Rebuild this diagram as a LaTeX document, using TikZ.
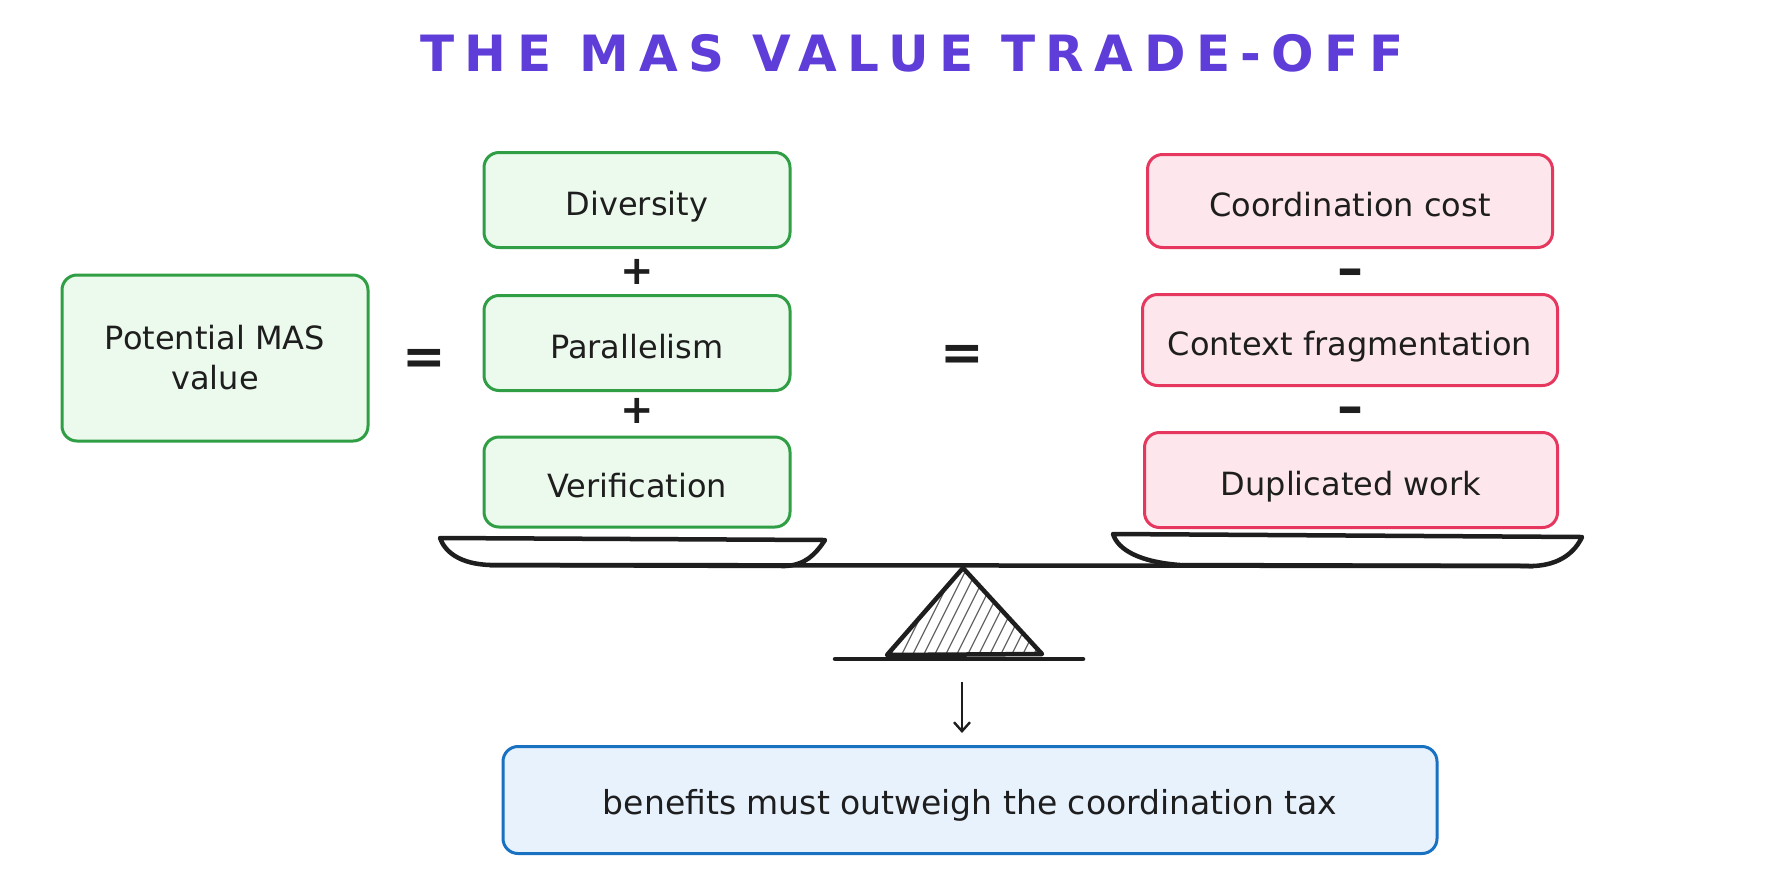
\documentclass[tikz,border=0pt]{standalone}
\usepackage{fontspec}
\setmainfont{DejaVu Sans}
\newfontfamily\titlefont[LetterSpace=21]{DejaVu Sans Bold}
\usetikzlibrary{arrows.meta}
\definecolor{greenD}{RGB}{47,158,68}
\definecolor{greenL}{RGB}{235,250,236}
\definecolor{redD}{RGB}{230,55,95}
\definecolor{redL}{RGB}{253,231,236}
\definecolor{blueD}{RGB}{25,113,194}
\definecolor{blueL}{RGB}{231,242,253}
\definecolor{titleC}{RGB}{95,61,217}
\definecolor{ink}{RGB}{30,30,30}
\tikzset{
  card/.style={draw, line width=3pt, rounded corners=15pt, align=center, inner sep=0pt,
    font=\fontsize{32}{40}\selectfont, text=ink, text height=31pt, text depth=0pt},
  gcard/.style={card, draw=greenD, fill=greenL},
  rcard/.style={card, draw=redD, fill=redL},
  bcard/.style={card, draw=blueD, fill=blueL},
  op/.style={inner sep=0pt, text=ink, font=\bfseries\fontsize{40}{40}\selectfont},
  bigop/.style={op, font=\bfseries\fontsize{52}{52}\selectfont},
  scaleline/.style={draw=ink, line width=4.5pt, line cap=round, line join=round},
  arrowC/.style={draw=ink, line width=2.4pt, -{Straight Barb[length=9pt,width=16pt,line width=2.4pt]}}
}
\begin{document}
\begin{tikzpicture}[x=1pt, y=-1pt]
\useasboundingbox (0,0) rectangle (1774,887);
\fill[white] (0,0) rectangle (1774,887);

% title
\node[text=titleC, font=\titlefont\fontsize{50}{50}\selectfont, anchor=center] (title) at (912,53) {THE MAS VALUE TRADE-OFF};

% left side
\node[gcard, minimum width=306pt, minimum height=166pt, text height=, text depth=] (pot) at (215,358) {Potential MAS\\value};
\node[bigop] (eq1) at (424,362) {=};
\node[gcard, minimum width=306pt, minimum height=95pt] (div) at (637,200) {Diversity};
\node[op] (plus1) at (637,272) {+};
\node[gcard, minimum width=306pt, minimum height=95pt] (par) at (637,343) {Parallelism};
\node[op] (plus2) at (637,411) {+};
\node[gcard, minimum width=306pt, minimum height=90pt] (ver) at (637,482) {Verification};

\node[bigop] (eq2) at (962,358) {=};

% right side
\node[rcard, minimum width=405pt, minimum height=93pt] (coo) at (1350,201) {Coordination cost};
\node[bigop] (minus1) at (1350,278) {\textendash};
\node[rcard, minimum width=415pt, minimum height=91pt] (ctx) at (1350,340) {Context fragmentation};
\node[bigop] (minus2) at (1350,416) {\textendash};
\node[rcard, minimum width=413pt, minimum height=95pt] (dup) at (1351,480) {Duplicated work};

% scale
\path[scaleline] (440,538) -- (825,540) .. controls (815,555) and (805,565) .. (785,566)
   -- (490,565) .. controls (460,564) and (445,552) .. (440,538) -- cycle;
\path[scaleline] (1113,534) -- (1582,537) .. controls (1575,552) and (1560,565) .. (1533,566)
   -- (1180,565) .. controls (1140,562) and (1118,550) .. (1113,534) -- cycle;
\path[scaleline] (490,565) -- (1533,566);
\begin{scope}
  \clip (963,568) -- (1042,654) -- (887,655) -- cycle;
  \foreach \i in {0,...,22} {
    \draw[gray!80!black, line width=1.3pt] (850+\i*11,670) -- (905+\i*11,560);
  }
\end{scope}
\path[scaleline] (963,568) -- (1042,654) -- (887,655) -- cycle;
\path[scaleline] (835,659) -- (1083,659);

% conclusion
\coordinate (fulcrum) at (962,682);
\node[bcard, minimum width=934pt, minimum height=107pt, font=\fontsize{33}{40}\selectfont, text height=29pt] (concl) at (970,800) {benefits must outweigh the coordination tax};
\draw[arrowC, shorten >=12pt] (fulcrum) -- (concl.north -| fulcrum);
\end{tikzpicture}
\end{document}
